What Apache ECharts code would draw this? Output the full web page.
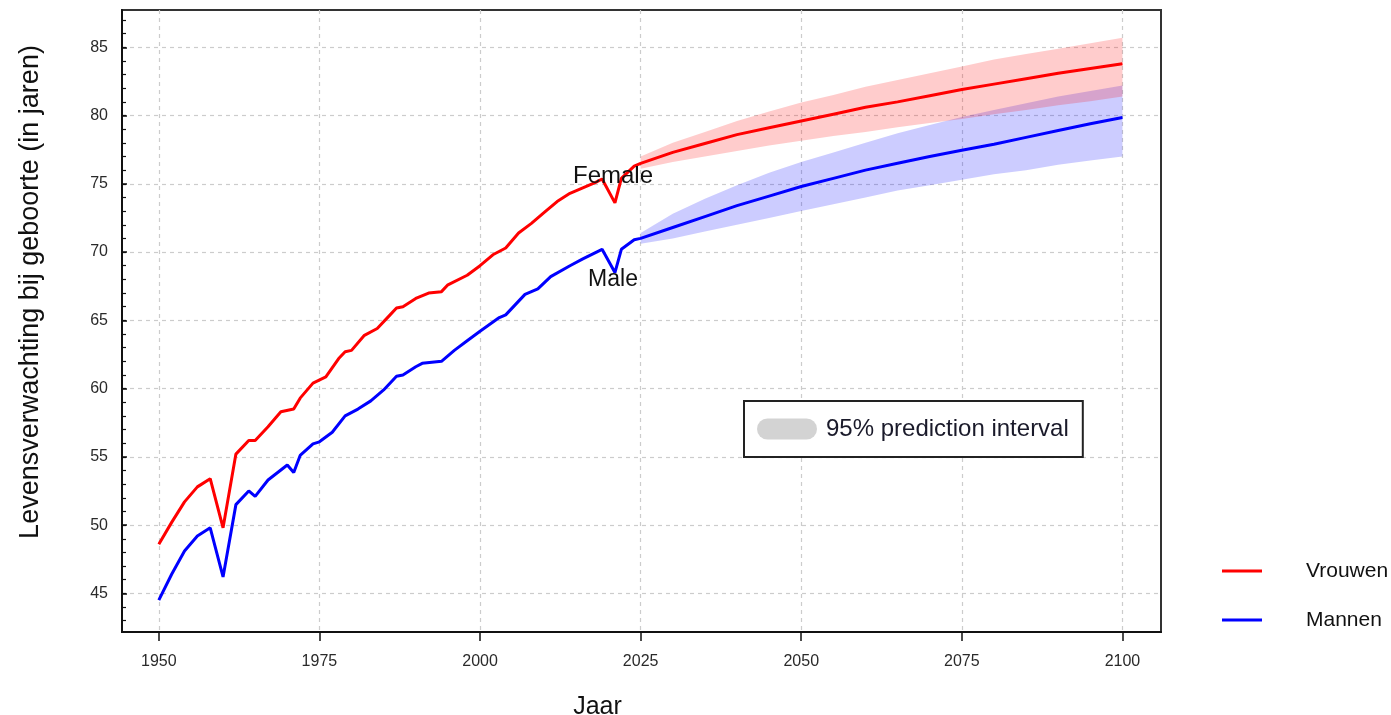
<!DOCTYPE html>
<html>
<head>
<meta charset="utf-8">
<script src="https://cdn.jsdelivr.net/npm/echarts@6/dist/echarts.min.js"></script>
<style>
html,body{margin:0;padding:0;background:#fff;}
#chart{width:1391px;height:715px;}
</style>
</head>
<body>
<div id="chart"></div>
<script>
// ---- data ----
const femaleHistory = [
  [1950,48.6],[1952,50.2],[1954,51.7],[1956,52.8],[1958,53.4],[1960,49.8],[1962,55.2],
  [1964,56.2],[1965,56.2],[1967,57.2],[1969,58.3],[1971,58.5],[1972,59.3],[1974,60.4],
  [1976,60.85],[1978,62.2],[1979,62.7],[1980,62.8],[1982,63.9],[1984,64.4],[1986,65.4],
  [1987,65.9],[1988,66.0],[1990,66.6],[1992,67.0],[1994,67.1],[1995,67.6],[1998,68.3],
  [2000,69.0],[2002,69.8],[2004,70.3],[2006,71.4],[2008,72.1],[2010,72.9],[2012,73.7],
  [2014,74.3],[2016,74.7],[2018,75.1],[2019,75.35],[2021,73.6],[2022,75.4],[2024,76.3]
];
const maleHistory = [
  [1950,44.5],[1952,46.4],[1954,48.1],[1956,49.2],[1958,49.8],[1960,46.2],[1962,51.5],
  [1964,52.5],[1965,52.1],[1967,53.3],[1970,54.4],[1971,53.85],[1972,55.1],[1974,55.95],
  [1975,56.1],[1977,56.8],[1979,58.0],[1981,58.5],[1983,59.1],[1985,59.9],[1987,60.9],
  [1988,61.0],[1990,61.6],[1991,61.85],[1994,62.0],[1996,62.8],[1998,63.5],[2000,64.2],
  [2003,65.2],[2004,65.4],[2007,66.9],[2009,67.3],[2011,68.2],[2014,69.0],[2016,69.5],
  [2019,70.2],[2021,68.5],[2022,70.2],[2024,70.9]
];
const forecastYears  = [2025,2030,2035,2040,2045,2050,2055,2060,2065,2070,2075,2080,2085,2090,2095,2100];
const femaleForecast = [76.5,77.3,77.95,78.6,79.1,79.6,80.1,80.6,81.0,81.45,81.9,82.3,82.7,83.1,83.45,83.8];
const femaleUpper    = [77.0,78.0,78.8,79.6,80.3,80.95,81.5,82.1,82.6,83.1,83.6,84.1,84.5,84.9,85.3,85.7];
const femaleLower    = [76.1,76.6,77.0,77.4,77.8,78.15,78.5,78.8,79.15,79.45,79.75,80.1,80.4,80.75,81.05,81.4];
const maleForecast   = [71.0,71.8,72.6,73.4,74.1,74.8,75.4,76.0,76.5,77.0,77.45,77.9,78.4,78.9,79.4,79.85];
const maleUpper      = [71.4,72.8,73.9,74.9,75.8,76.6,77.3,78.0,78.7,79.3,79.9,80.4,80.9,81.4,81.8,82.2];
const maleLower      = [70.6,71.0,71.5,72.0,72.5,73.0,73.5,74.0,74.5,74.9,75.3,75.7,76.0,76.4,76.7,77.0];
const xTicks = [1950,1975,2000,2025,2050,2075,2100];
const yTicks = [45,50,55,60,65,70,75,80,85];
const yMinorTicks = [43,44,45,46,47,48,49,50,51,52,53,54,55,56,57,58,59,60,61,62,63,64,65,66,67,68,69,70,71,72,73,74,75,76,77,78,79,80,81,82,83,84,85,86,87];
const labelFemale = [[2020.7,75.57,'Female']];
const labelMale = [[2020.7,67.95,'Male']];
const PI_NAME = '95% prediction interval';

const FONT = 'Liberation Sans, Arial, sans-serif';

function bandSeries(lower, upper, color) {
  return {
    type: 'custom',
    name: PI_NAME,
    xAxisIndex: 0, yAxisIndex: 0,
    data: forecastYears.map((y, i) => [y, lower[i], upper[i]]),
    encode: {x: 0, y: [1, 2]},
    silent: true,
    z: 1,
    renderItem: function (params, api) {
      if (params.dataIndex !== 0) return null;
      const pts = [];
      for (let i = 0; i < forecastYears.length; i++) pts.push(api.coord([forecastYears[i], upper[i]]));
      for (let i = forecastYears.length - 1; i >= 0; i--) pts.push(api.coord([forecastYears[i], lower[i]]));
      return {type: 'polygon', shape: {points: pts}, style: {fill: color, stroke: null}};
    }
  };
}

const chart = echarts.init(document.getElementById('chart'), null, {renderer: 'canvas'});
chart.setOption({
  animation: false,
  backgroundColor: '#ffffff',
  textStyle: {fontFamily: FONT},
  grid: {left: 122, right: 230, top: 10, bottom: 83, show: true, borderColor: '#333', borderWidth: 2, containLabel: false, outerBoundsMode: 'none'},
  xAxis: [{
    type: 'value', min: 1944.27, max: 2106.0,
    name: 'Jaar', nameLocation: 'middle', nameGap: 63,
    nameTextStyle: {fontSize: 25, color: '#111', fontFamily: FONT, padding: [0, 88, 0, 0]},
    axisLine: {show: true, onZero: false, lineStyle: {color: '#111', width: 2}},
    axisTick: {show: true, inside: false, length: 9, customValues: xTicks, lineStyle: {color: '#111', width: 1.5}},
    axisLabel: {show: true, customValues: xTicks, margin: 22, fontSize: 16, color: '#2a2a2a', fontFamily: FONT, formatter: v => String(v)},
    splitLine: {show: true, lineStyle: {color: '#cccccc', type: [4, 4], width: 1.2}}
  }],
  yAxis: [{
    type: 'value', min: 42.17, max: 87.73,
    name: 'Levensverwachting bij geboorte (in jaren)', nameLocation: 'middle', nameGap: 78, nameRotate: 90,
    nameTextStyle: {fontSize: 27, color: '#111', fontFamily: FONT, padding: [0, 0, 0, 58]},
    axisLine: {show: true, onZero: false, lineStyle: {color: '#111', width: 2}},
    axisTick: {show: true, inside: true, length: 5, customValues: yTicks, lineStyle: {color: '#111', width: 1.5}},
    axisLabel: {show: true, customValues: yTicks, margin: 14, fontSize: 16, color: '#2a2a2a', fontFamily: FONT},
    splitLine: {show: true, lineStyle: {color: '#cccccc', type: [4, 4], width: 1.2}}
  }, {
    type: 'value', min: 42.17, max: 87.73, position: 'left',
    axisLine: {show: false},
    axisTick: {show: true, inside: true, length: 4, customValues: yMinorTicks, lineStyle: {color: '#111', width: 1.2}},
    axisLabel: {show: false},
    splitLine: {show: false}
  }],
  legend: [{
    data: [{name: PI_NAME, icon: 'path://M10.5,0 L49.5,0 A10.5,10.5 0 0 1 49.5,21 L10.5,21 A10.5,10.5 0 0 1 10.5,0 Z', itemStyle: {color: '#d3d3d3'}}],
    left: 744, top: 401,
    padding: [16, 14, 16, 13],
    itemWidth: 60, itemHeight: 21,
    borderColor: '#222', borderWidth: 2, borderRadius: 0,
    backgroundColor: '#fff',
    selectedMode: false,
    textStyle: {fontSize: 24, color: '#1a1a2a', fontFamily: FONT, padding: [0, 0, 0, 4]}
  }, {
    data: [{name: 'Vrouwen', icon: 'rect'}, {name: 'Mannen', icon: 'rect'}],
    orient: 'vertical',
    left: 1222, top: 559,
    padding: 0,
    itemWidth: 40, itemHeight: 3, itemGap: 25,
    selectedMode: false,
    textStyle: {fontSize: 21, color: '#111', fontFamily: FONT, lineHeight: 24, padding: [0, 0, 0, 39]}
  }],
  series: [
    bandSeries(maleLower, maleUpper, 'rgba(0,0,255,0.2)'),
    bandSeries(femaleLower, femaleUpper, 'rgba(255,0,0,0.2)'),
    {
      type: 'line', name: 'Vrouwen', z: 3,
      data: femaleHistory.concat(forecastYears.map((y, i) => [y, femaleForecast[i]])),
      showSymbol: false, symbol: 'none', smooth: false,
      itemStyle: {color: '#ff0000'},
      lineStyle: {color: '#ff0000', width: 3}
    },
    {
      type: 'line', name: 'Mannen', z: 3,
      data: maleHistory.concat(forecastYears.map((y, i) => [y, maleForecast[i]])),
      showSymbol: false, symbol: 'none', smooth: false,
      itemStyle: {color: '#0000ff'},
      lineStyle: {color: '#0000ff', width: 3}
    },
    {
      type: 'scatter', name: 'lblF', z: 4, symbolSize: 0, silent: true,
      itemStyle: {opacity: 1},
      data: labelFemale,
      label: {show: true, position: 'inside', formatter: p => p.data[2], fontSize: 24, color: '#111', opacity: 1, textBorderWidth: 0, textBorderColor: 'transparent', fontFamily: FONT}
    },
    {
      type: 'scatter', name: 'lblM', z: 4, symbolSize: 0, silent: true,
      itemStyle: {opacity: 1},
      data: labelMale,
      label: {show: true, position: 'inside', formatter: p => p.data[2], fontSize: 23, color: '#111', opacity: 1, textBorderWidth: 0, textBorderColor: 'transparent', fontFamily: FONT}
    }
  ]
});
</script>
</body>
</html>
